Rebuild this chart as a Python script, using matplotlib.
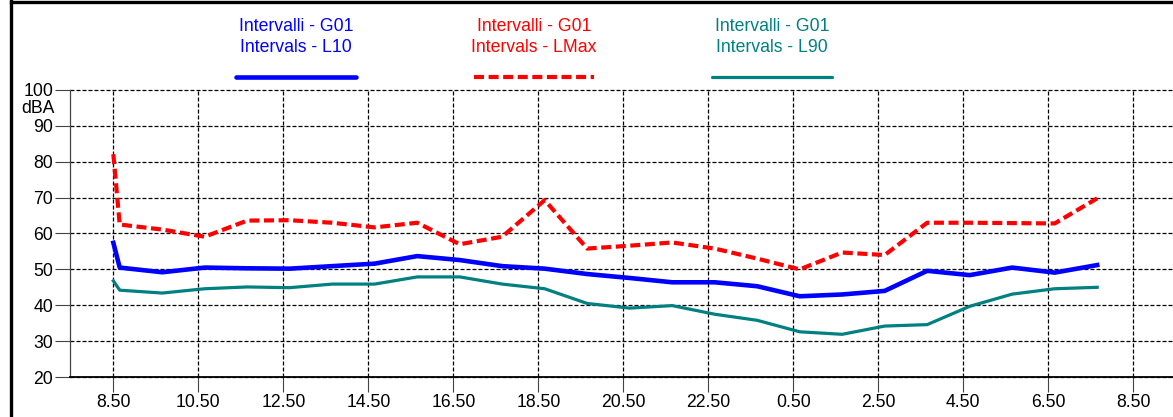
import matplotlib
matplotlib.use("Agg")
import matplotlib.pyplot as plt
from matplotlib.lines import Line2D

plt.rcParams['font.family'] = ['Liberation Sans', 'DejaVu Sans']
plt.rcParams['font.size'] = 12.7

# hours from the start of the measurement (24.5 = 0.50 next day)
hours = [8.5] + [8.65 + k for k in range(24)]

lmax = [82.1, 62.5, 61.1, 59.1, 63.6, 63.7, 63.0, 61.7, 63.0, 57.0, 59.1, 69.3, 55.8,
        56.6, 57.5, 55.8, 53.0, 50.0, 54.7, 54.0, 63.0, 63.0, 62.9, 62.8, 69.8]
l10 = [57.4, 50.5, 49.2, 50.5, 50.3, 50.2, 50.9, 51.6, 53.7, 52.6, 50.9, 50.2, 48.7,
       47.6, 46.4, 46.4, 45.3, 42.5, 43.0, 44.0, 49.6, 48.4, 50.5, 49.1, 51.2]
l90 = [46.8, 44.2, 43.4, 44.6, 45.1, 44.9, 45.9, 45.9, 47.9, 47.9, 45.9, 44.6, 40.5,
       39.2, 39.9, 37.5, 35.8, 32.6, 31.9, 34.2, 34.6, 39.7, 43.1, 44.6, 45.0]

xticks = [8.5 + 2 * k for k in range(13)]
xlabels = ["%.2f" % (t % 24) for t in xticks]
yticks = [20, 30, 40, 50, 60, 70, 80, 90, 100]

blue = "#0000ff"
red = "#ff0000"
teal = "#008080"

W, H = 1173, 417
fig = plt.figure(figsize=(W / 100, H / 100), dpi=100)
ax = fig.add_axes([70 / W, 1 - 377 / H, 1 - 70 / W, (377 - 90) / H])

ax.plot(hours, l90, color=teal, lw=2.3, zorder=3)
ax.plot(hours, l10, color=blue, lw=3.3, zorder=4)
ax.plot(hours, lmax, color=red, lw=3.0, dashes=(2.4, 1.1), zorder=5)

ax.set_xlim(7.48, 8.5 + (W - 113.3) / 42.5)
ax.set_ylim(20, 100)
ax.set_xticks(xticks)
ax.set_xticklabels(xlabels)
ax.set_yticks(yticks)
ax.grid(True, color="black", lw=0.9, linestyle=(0, (3.2, 1.6)))
ax.tick_params(axis="both", length=11, width=0.8, color="#444444", pad=1)
for s in ["top", "right"]:
    ax.spines[s].set_visible(False)
ax.spines["left"].set_color("#444444")
ax.spines["left"].set_linewidth(0.9)
ax.spines["bottom"].set_color("black")
ax.spines["bottom"].set_linewidth(1.3)
for gl in ax.get_ygridlines() + ax.get_xgridlines():
    gl.set_clip_on(False)

fig.text(55 / W, 1 - 109 / H, "dBA", ha="right", va="center")

# legend: two text lines above a line sample
entries = [
    (296, blue, "Intervalli - G01\nIntervals - L10", dict(lw=3.3)),
    (534, red, "Intervalli - G01\nIntervals - LMax", dict(lw=3.0, dashes=(2.4, 1.1))),
    (772, teal, "Intervalli - G01\nIntervals - L90", dict(lw=2.3)),
]
for cx, col, txt, kw in entries:
    fig.text(cx / W, 1 - 37 / H, txt, color=col, ha="center", va="center",
             linespacing=1.35)
    fig.add_artist(Line2D([(cx - 60) / W, (cx + 60) / W], [1 - 77 / H] * 2,
                          color=col, solid_capstyle="round", **kw))

# frame of the window
fig.add_artist(Line2D([10.5 / W, 1], [1 - 1.5 / H] * 2, color="black", lw=2.4))
fig.add_artist(Line2D([10.5 / W] * 2, [0, 1], color="black", lw=2.4))

fig.savefig("out.png", dpi=100)
